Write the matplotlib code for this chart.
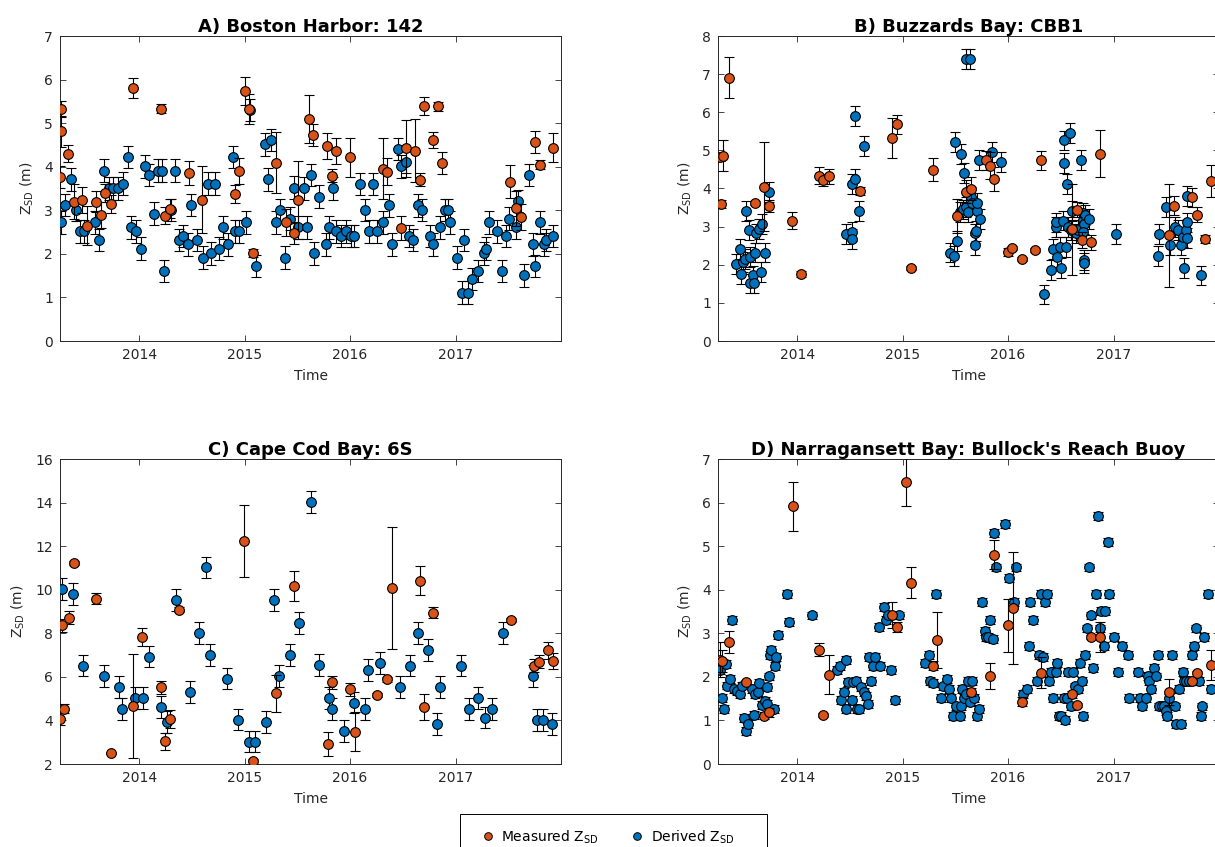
import matplotlib
matplotlib.use("Agg")
import matplotlib.pyplot as plt
from matplotlib.lines import Line2D
from matplotlib.patches import Rectangle

# ---- A) Boston Harbor: 142 ----
a_meas_t = [2013.26, 2013.26, 2013.33, 2013.25, 2013.38, 2013.46, 2013.51, 2013.59, 2013.64, 2013.68,
            2013.73, 2013.94, 2014.21, 2014.25, 2014.29, 2014.47, 2014.60, 2014.91, 2014.95, 2015.00,
            2015.04, 2015.08, 2015.30, 2015.39, 2015.47, 2015.51, 2015.61, 2015.65, 2015.78, 2015.83,
            2015.87, 2016.00, 2016.31, 2016.35, 2016.48, 2016.53, 2016.62, 2016.66, 2016.70, 2016.79,
            2016.83, 2016.87, 2017.52, 2017.57, 2017.62, 2017.75, 2017.80, 2017.92]
a_meas_z = [5.32, 4.81, 4.30, 3.77, 3.20, 3.23, 2.65, 3.20, 2.89, 3.40,
            3.14, 5.81, 5.33, 2.88, 3.04, 3.86, 3.24, 3.37, 3.90, 5.74,
            5.32, 2.02, 4.09, 2.72, 2.47, 3.24, 5.09, 4.72, 4.48, 3.79,
            4.37, 4.22, 3.95, 3.89, 2.59, 4.42, 4.37, 3.70, 5.39, 4.61,
            5.39, 4.08, 3.66, 3.05, 2.85, 4.57, 4.05, 4.44]
a_meas_e = [0.18, 0.35, 0.20, 0.25, 0.40, 0.30, 0.45, 0.25, 0.30, 0.20,
            0.20, 0.23, 0.10, 0.20, 0.22, 0.28, 0.77, 0.20, 0.30, 0.33,
            0.35, 0.10, 0.70, 0.30, 0.25, 0.90, 0.55, 0.25, 0.30, 0.15,
            0.30, 0.45, 0.70, 0.30, 0.28, 0.65, 0.72, 0.15, 0.20, 0.18,
            0.10, 0.25, 0.38, 0.40, 0.30, 0.25, 0.10, 0.33]
a_der_t = [2013.26, 2013.30, 2013.35, 2013.40, 2013.44, 2013.48, 2013.58, 2013.62, 2013.67, 2013.71,
           2013.75, 2013.80, 2013.85, 2013.89, 2013.92, 2013.97, 2014.02, 2014.06, 2014.09, 2014.14,
           2014.18, 2014.22, 2014.24, 2014.30, 2014.34, 2014.38, 2014.42, 2014.46, 2014.49, 2014.55,
           2014.61, 2014.65, 2014.68, 2014.72, 2014.76, 2014.80, 2014.84, 2014.89, 2014.91, 2014.95,
           2015.01, 2015.05, 2015.11, 2015.19, 2015.22, 2015.25, 2015.30, 2015.34, 2015.38, 2015.43,
           2015.47, 2015.51,
           2015.56, 2015.59, 2015.63, 2015.66, 2015.71, 2015.77, 2015.80, 2015.84, 2015.87, 2015.91,
           2015.96, 2016.01, 2016.04, 2016.09, 2016.14, 2016.18, 2016.22, 2016.26, 2016.31, 2016.37,
           2016.40, 2016.45, 2016.48, 2016.53, 2016.56, 2016.60, 2016.64, 2016.68, 2016.76, 2016.79,
           2016.85, 2016.90, 2016.93, 2016.95, 2017.01, 2017.06, 2017.08, 2017.12, 2017.16, 2017.21,
           2017.27, 2017.29, 2017.32, 2017.39, 2017.44, 2017.48, 2017.51, 2017.57, 2017.59, 2017.65,
           2017.70, 2017.73, 2017.75, 2017.80, 2017.84, 2017.86, 2017.92]
a_der_z = [2.72, 3.12, 3.71, 3.01, 2.52, 2.52, 2.72, 2.32, 3.91, 3.50,
           3.50, 3.50, 3.61, 4.22, 2.61, 2.52, 2.12, 4.01, 3.81, 2.92,
           3.91, 3.91, 1.61, 3.01, 3.91, 2.32, 2.41, 2.22, 3.12, 2.32,
           1.91, 3.61, 2.01, 3.61, 2.12, 2.61, 2.22, 4.22, 2.52, 2.52,
           2.72, 5.30, 1.72, 4.51, 3.71, 4.61, 2.72, 3.01, 1.91, 2.81,
           3.52, 2.61,
           3.50, 2.61, 3.81, 2.01, 3.31, 2.22, 2.61, 3.50, 2.52, 2.41,
           2.52, 2.41, 2.41, 3.60, 3.01, 2.52, 3.60, 2.52, 2.72, 3.11,
           2.22, 4.41, 4.01, 4.11, 2.41, 2.32, 3.11, 3.01, 2.41, 2.22,
           2.61, 3.01, 3.01, 2.72, 1.91, 1.11, 2.32, 1.11, 1.42, 1.61,
           2.01, 2.12, 2.72, 2.52, 1.61, 2.41, 2.81, 2.61, 3.21, 1.51,
           3.81, 2.22, 1.72, 2.72, 2.22, 2.32, 2.41]
a_der_e = 0.26

# ---- B) Buzzards Bay: CBB1 ----
b_meas_t = [2013.28, 2013.27, 2013.30, 2013.35, 2013.60, 2013.69, 2013.73, 2013.95, 2014.04, 2014.21,
            2014.25, 2014.30, 2014.60, 2014.90, 2014.95, 2015.08, 2015.29, 2015.52, 2015.60, 2015.65,
            2015.79, 2015.83, 2015.87, 2016.00, 2016.04, 2016.13, 2016.26, 2016.31, 2016.61, 2016.65,
            2016.70, 2016.79, 2016.87, 2017.53, 2017.57, 2017.74, 2017.79, 2017.87, 2017.92]
b_meas_z = [3.59, 4.83, 4.86, 6.91, 3.61, 4.05, 3.54, 3.16, 1.75, 4.34,
            4.22, 4.32, 3.94, 5.33, 5.69, 1.92, 4.49, 3.28, 3.92, 3.99,
            4.74, 4.60, 4.25, 2.33, 2.43, 2.16, 2.38, 4.74, 2.93, 3.44,
            2.65, 2.59, 4.91, 2.77, 3.55, 3.77, 3.31, 2.67, 4.20]
b_meas_e = [0.10, 0.10, 0.40, 0.53, 0.05, 1.17, 0.15, 0.22, 0.08, 0.22,
            0.15, 0.20, 0.10, 0.53, 0.25, 0.06, 0.30, 0.45, 0.30, 0.30,
            0.25, 0.35, 0.32, 0.10, 0.05, 0.05, 0.05, 0.25, 1.20, 0.20,
            0.20, 0.20, 0.62, 1.35, 0.25, 0.25, 0.20, 0.10, 0.42]
b_der_t = [2013.42, 2013.46, 2013.47, 2013.49, 2013.51, 2013.52, 2013.54, 2013.55, 2013.55, 2013.58,
           2013.59, 2013.60, 2013.61, 2013.64, 2013.66, 2013.67, 2013.70, 2013.73, 2014.46, 2014.52,
           2014.52, 2014.52, 2014.55, 2014.55, 2014.59, 2014.63,
           2015.45, 2015.49, 2015.50, 2015.52, 2015.55, 2015.58, 2015.54, 2015.57, 2015.60, 2015.62,
           2015.60, 2015.64, 2015.65, 2015.66, 2015.69, 2015.69, 2015.70, 2015.71, 2015.71, 2015.73,
           2015.72, 2015.85, 2015.93, 2016.34, 2016.41, 2016.43, 2016.45, 2016.45, 2016.46, 2016.49,
           2016.50, 2016.52, 2016.53, 2016.53, 2016.55, 2016.56, 2016.57, 2016.59, 2016.60, 2016.61,
           2016.64, 2016.66, 2016.69, 2016.71, 2016.71, 2016.72, 2016.73, 2016.71, 2016.72, 2016.72,
           2016.77, 2017.02, 2017.42, 2017.43, 2017.50, 2017.54, 2017.58, 2017.61, 2017.64, 2017.66,
           2017.67, 2017.69, 2017.70, 2017.70, 2017.70, 2017.83]
b_der_z = [2.01, 2.42, 1.76, 2.08, 2.14, 3.41, 2.91, 2.21, 1.51, 1.72,
           1.51, 2.32, 2.82, 2.93, 1.82, 3.07, 2.32, 3.90, 2.81, 2.87,
           2.67, 4.11, 4.26, 5.90, 3.41, 5.11,
           2.32, 2.22, 5.21, 2.63, 4.91, 4.41, 3.39, 3.45, 3.51, 3.38,
           7.40, 7.40, 3.79, 3.61, 2.52, 2.82, 2.88, 3.42, 3.61, 3.21,
           4.75, 4.95, 4.70, 1.22, 1.86, 2.41, 3.00, 3.11, 2.21, 2.47,
           1.92, 3.16, 4.66, 5.26, 2.47, 4.11, 3.00, 5.45, 2.91, 3.42,
           2.82, 2.91, 4.75, 3.17, 3.35, 3.06, 3.30, 2.87, 2.12, 2.05,
           3.21, 2.81, 2.22, 2.81, 3.51, 2.52, 3.00, 2.91, 2.52, 2.72,
           1.92, 2.91, 3.11, 2.71, 3.81, 1.72]
b_der_e = 0.26

# ---- C) Cape Cod Bay: 6S ----
c_meas_t = [2013.25, 2013.29, 2013.27, 2013.34, 2013.38, 2013.59, 2013.73, 2013.94, 2014.03, 2014.21,
            2014.25, 2014.29, 2014.38, 2014.99, 2015.08, 2015.30, 2015.47, 2015.79, 2015.83, 2016.00,
            2016.05, 2016.26, 2016.35, 2016.40, 2016.66, 2016.70, 2016.79, 2017.53, 2017.74, 2017.79,
            2017.88, 2017.92]
c_meas_z = [4.07, 4.54, 8.37, 8.71, 11.22, 9.58, 2.51, 4.67, 7.82, 5.52,
            3.04, 4.07, 9.09, 12.23, 2.12, 5.25, 10.18, 2.90, 5.75, 5.43,
            3.49, 5.17, 5.88, 10.06, 10.42, 4.63, 8.94, 8.62, 6.52, 6.69,
            7.21, 6.73]
c_meas_e = [0.30, 0.20, 0.30, 0.30, 0.10, 0.25, 0.05, 2.40, 0.40, 0.30,
            0.40, 0.40, 0.10, 1.65, 0.10, 0.85, 0.70, 0.55, 0.30, 0.30,
            0.90, 0.10, 0.10, 2.80, 0.65, 0.60, 0.25, 0.10, 0.30, 0.30,
            0.40, 0.35]
c_der_t = [2013.27, 2013.37, 2013.47, 2013.67, 2013.81, 2013.84, 2013.96, 2014.04, 2014.09, 2014.21,
           2014.26, 2014.35, 2014.48, 2014.57, 2014.63, 2014.67, 2014.83, 2014.94, 2015.04, 2015.10,
           2015.20, 2015.28, 2015.33, 2015.43, 2015.52, 2015.63, 2015.71, 2015.80, 2015.83, 2015.94,
           2016.04, 2016.14, 2016.17, 2016.28, 2016.47, 2016.57, 2016.64, 2016.74, 2016.82, 2016.85,
           2017.05, 2017.13, 2017.21, 2017.28, 2017.35, 2017.45, 2017.73, 2017.77, 2017.83, 2017.91]
c_der_z = [10.03, 9.81, 6.52, 6.03, 5.52, 4.53, 5.03, 5.03, 6.93, 4.63,
           3.93, 9.52, 5.32, 8.02, 11.02, 7.02, 5.92, 4.04, 3.03, 3.03,
           3.93, 9.52, 6.03, 7.02, 8.49, 14.02, 6.53, 5.02, 4.54, 3.53,
           4.82, 4.54, 6.32, 6.63, 5.52, 6.52, 8.02, 7.22, 3.82, 5.52,
           6.52, 4.54, 5.03, 4.13, 4.54, 8.02, 6.03, 4.02, 4.02, 3.82]
c_der_e = 0.5

# ---- D) Narragansett Bay: Bullock's Reach Buoy ----
d_meas_t = [2013.27, 2013.29, 2013.35, 2013.52, 2013.69, 2013.73, 2013.96, 2014.21, 2014.25, 2014.30,
            2014.90, 2014.95, 2015.03, 2015.08, 2015.29, 2015.33, 2015.65, 2015.83, 2015.87, 2016.00,
            2016.05, 2016.13, 2016.31, 2016.61, 2016.65, 2016.79, 2016.87, 2017.53, 2017.74, 2017.79,
            2017.92]
d_meas_z = [2.39, 2.37, 2.80, 1.88, 1.11, 1.19, 5.91, 2.62, 1.13, 2.05,
            3.42, 3.15, 6.47, 4.16, 2.26, 2.85, 1.65, 2.01, 4.80, 3.18,
            3.58, 1.43, 2.10, 1.60, 1.36, 2.92, 2.92, 1.65, 1.91, 2.08,
            2.27]
d_meas_e = [0.40, 0.25, 0.25, 0.05, 0.08, 0.10, 0.56, 0.15, 0.05, 0.45,
            0.30, 0.12, 0.55, 0.35, 0.10, 0.65, 0.10, 0.30, 0.33, 0.60,
            1.28, 0.10, 0.35, 0.08, 0.05, 0.05, 0.35, 0.30, 0.05, 0.05,
            0.35]
d_der_t = [2013.27, 2013.29, 2013.31, 2013.33, 2013.34, 2013.36, 2013.38, 2013.40, 2013.43, 2013.46,
           2013.48, 2013.50, 2013.52, 2013.53, 2013.57, 2013.59, 2013.60, 2013.63, 2013.64, 2013.67,
           2013.70, 2013.71, 2013.71, 2013.73, 2013.74, 2013.75, 2013.78, 2013.79, 2013.80, 2013.82,
           2013.90, 2013.92, 2014.14, 2014.38, 2014.41, 2014.42, 2014.44, 2014.46, 2014.46, 2014.48,
           2014.52, 2014.53, 2014.56, 2014.57, 2014.59, 2014.61, 2014.63, 2014.65, 2014.67, 2014.68,
           2014.70, 2014.72, 2014.74, 2014.78, 2014.79, 2014.82, 2014.84, 2014.86, 2014.89, 2014.93,
           2014.97,
           2015.21, 2015.25, 2015.26, 2015.29, 2015.32,
           2015.36, 2015.38, 2015.42, 2015.44, 2015.46, 2015.48, 2015.51, 2015.54, 2015.55, 2015.56,
           2015.58, 2015.60, 2015.62, 2015.64, 2015.66, 2015.68, 2015.71, 2015.72, 2015.75, 2015.78,
           2015.79, 2015.81, 2015.83, 2015.86, 2015.87, 2015.89, 2015.97, 2016.01, 2016.06, 2016.08,
           2016.14, 2016.18, 2016.20, 2016.21, 2016.24, 2016.27, 2016.29, 2016.31, 2016.33, 2016.35,
           2016.37, 2016.39, 2016.41, 2016.43, 2016.45, 2016.46, 2016.48, 2016.50, 2016.53, 2016.54,
           2016.56, 2016.57, 2016.60, 2016.62, 2016.63, 2016.66, 2016.68, 2016.70, 2016.71, 2016.73,
           2016.75, 2016.77, 2016.79, 2016.81, 2016.83, 2016.85, 2016.87, 2016.88, 2016.91, 2016.92,
           2016.95, 2016.96, 2017.00, 2017.04, 2017.08, 2017.14, 2017.15, 2017.23, 2017.25, 2017.27,
           2017.31, 2017.33, 2017.34, 2017.36, 2017.38, 2017.40, 2017.42, 2017.43, 2017.46, 2017.48,
           2017.50, 2017.51, 2017.53, 2017.55, 2017.58, 2017.59, 2017.62, 2017.64, 2017.66, 2017.67,
           2017.69, 2017.72, 2017.74, 2017.76, 2017.78, 2017.81, 2017.83, 2017.84, 2017.86, 2017.90,
           2017.92]
d_der_z = [2.16, 1.52, 1.26, 2.30, 1.80, 1.96, 3.30, 1.72, 1.67, 1.61,
           1.80, 1.06, 0.76, 0.92, 1.72, 1.13, 1.61, 1.66, 1.85, 1.36,
           1.45, 1.76, 1.38, 2.01, 2.50, 2.62, 1.26, 2.25, 2.46, 2.96,
           3.91, 3.25, 3.41, 2.16, 2.25, 1.47, 1.66, 2.39, 1.26, 1.88,
           1.47, 1.88, 1.91, 1.26, 1.26, 1.76, 1.66, 1.56, 1.38, 2.45,
           1.91, 2.25, 2.45, 3.15, 2.25, 3.61, 3.31, 3.42, 2.16, 1.47,
           3.41,
           2.31, 2.51, 1.91, 1.85, 3.91,
           1.51, 1.78, 1.95, 1.72, 1.51, 1.11, 1.32, 1.11, 1.32, 1.72,
           1.51, 1.61, 1.91, 1.42, 1.91, 1.51, 1.11, 1.26, 3.71, 3.06,
           2.91, 2.91, 3.31, 2.86, 5.30, 4.51, 5.51, 4.26, 3.71, 4.51,
           1.61, 1.73, 2.71, 3.71, 3.31, 1.91, 2.51, 3.91, 2.45, 3.71,
           3.91, 1.91, 2.11, 1.51, 2.11, 2.31, 1.11, 1.11, 1.51, 1.01,
           1.51, 2.11, 1.32, 2.11, 1.78, 1.72, 2.31, 1.91, 1.11, 2.51,
           3.11, 4.51, 3.41, 2.21, 3.91, 5.70, 3.11, 3.51, 2.71, 3.51,
           5.10, 3.91, 2.91, 2.11, 2.71, 2.51, 1.51, 2.11, 1.51, 1.32,
           1.51, 2.02, 1.91, 1.72, 2.21, 2.01, 2.51, 1.32, 1.32, 1.32,
           1.22, 1.11, 1.51, 2.51, 1.32, 0.91, 1.72, 0.91, 2.11, 1.91,
           1.91, 1.91, 2.51, 2.71, 3.11, 1.91, 1.11, 1.32, 2.91, 3.91,
           1.72]
d_der_e = 0.09

titles = ["A) Boston Harbor: 142", "B) Buzzards Bay: CBB1",
          "C) Cape Cod Bay: 6S", "D) Narragansett Bay: Bullock's Reach Buoy"]
year_ticks = [2014, 2015, 2016, 2017]
x_range = (2013.25, 2018.0)

c_meas = "#D95319"
c_der = "#0072BD"
c_axis = "#262626"

panels = [
    (a_meas_t, a_meas_z, a_meas_e, a_der_t, a_der_z, a_der_e, (0, 7), range(0, 8)),
    (b_meas_t, b_meas_z, b_meas_e, b_der_t, b_der_z, b_der_e, (0, 8), range(0, 9)),
    (c_meas_t, c_meas_z, c_meas_e, c_der_t, c_der_z, c_der_e, (2, 16), range(2, 17, 2)),
    (d_meas_t, d_meas_z, d_meas_e, d_der_t, d_der_z, d_der_e, (0, 7), range(0, 8)),
]

W, H = 1215, 847
fig = plt.figure(figsize=(W / 100, H / 100), dpi=100)
# axes boxes in pixels (left, top, width, height)
boxes = [(60, 36, 501, 305), (718, 36, 501, 305),
         (60, 459, 501, 305), (718, 459, 501, 305)]

for i, (mt, mz, me, dt, dz, de, ylim, yt) in enumerate(panels):
    l, t, w, h = boxes[i]
    ax = fig.add_axes([l / W, (H - t - h) / H, w / W, h / H])
    ax.errorbar(dt, dz, yerr=de, fmt='none', ecolor='k', elinewidth=0.8,
                capsize=3.6, capthick=0.8, zorder=2)
    ax.plot(dt, dz, 'o', ms=7, mfc=c_der, mec='k', mew=0.8, zorder=3)
    ax.errorbar(mt, mz, yerr=me, fmt='none', ecolor='k', elinewidth=0.8,
                capsize=3.6, capthick=0.8, zorder=4)
    ax.plot(mt, mz, 'o', ms=7, mfc=c_meas, mec='k', mew=0.8, zorder=5)
    ax.set_xlim(x_range)
    ax.set_ylim(ylim)
    ax.set_xticks(year_ticks)
    ax.set_yticks(list(yt))
    ax.tick_params(direction='in', length=4.5, width=0.6, top=True, right=True,
                   labelsize=10, colors=c_axis, pad=5)
    for s in ax.spines.values():
        s.set_color(c_axis)
        s.set_linewidth(0.7)
    ax.set_title(titles[i], fontsize=13, fontweight='bold', pad=3)
    ax.set_xlabel("Time", fontsize=10, color=c_axis, labelpad=5)
    ax.set_ylabel(r"Z$_{\mathrm{SD}}$ (m)", fontsize=10, color=c_axis, labelpad=6)

# legend box drawn separately, cut by the bottom edge like in the source figure
fig.patches.append(Rectangle((460 / W, 0), 307 / W, (H - 822) / H + 0.01,
                             transform=fig.transFigure, fill=True, fc='white',
                             ec='k', lw=0.7, zorder=1))
h_meas = Line2D([], [], ls='none', marker='o', ms=5.5, mfc=c_meas, mec='k', mew=0.7)
h_der = Line2D([], [], ls='none', marker='o', ms=5.5, mfc=c_der, mec='k', mew=0.7)
leg = fig.legend([h_meas, h_der], [r"Measured Z$_{\mathrm{SD}}$", r"Derived Z$_{\mathrm{SD}}$"],
                 loc='center left', bbox_to_anchor=(481 / W, 1 - 837 / H), ncol=2,
                 fontsize=10, frameon=False, borderpad=0, borderaxespad=0,
                 handlelength=1.0, handletextpad=0.45, columnspacing=2.3)
leg.set_zorder(2)

fig.savefig("out.png", dpi=100)
